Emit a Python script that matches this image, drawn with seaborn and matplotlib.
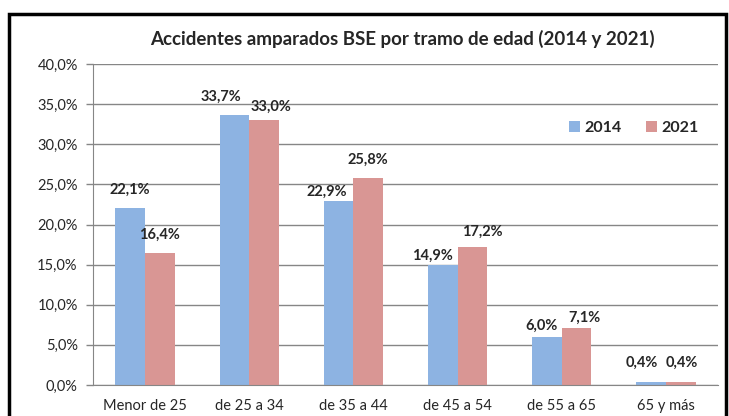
import numpy as np
import pandas as pd
import seaborn as sns
import matplotlib.pyplot as plt
from matplotlib.patches import Rectangle
from matplotlib.ticker import FuncFormatter

# datos
tramos = ['Menor de 25', 'de 25 a 34', 'de 35 a 44', 'de 45 a 54', 'de 55 a 65', '65 y más']
v2014 = [22.1, 33.7, 22.9, 14.9, 6.0, 0.4]
v2021 = [16.4, 33.0, 25.8, 17.2, 7.1, 0.4]
anios = ['2014', '2021']
colores = ['#8DB3E2', '#D99694']

# desplazamiento de las etiquetas (pixeles) respecto al tope de cada barra
desp = [
    [(0, 18), (-13, 18), (-12, 9), (-10, 10), (-5, 11), (-9, 19)],
    [(0, 19), (7, 13), (0, 18), (10, 15), (8, 10), (1, 19)],
]

df = pd.DataFrame({
    'tramo': tramos * 2,
    'valor': v2014 + v2021,
    'anio': [anios[0]] * len(tramos) + [anios[1]] * len(tramos),
})

sns.set_style('white')
plt.rcParams['font.family'] = ['Lato', 'DejaVu Sans']

fig = plt.figure(figsize=(7.29, 4.16), dpi=100)
ax = fig.add_axes([93 / 729, 31 / 416, 625 / 729, 321 / 416])

sns.barplot(data=df, x='tramo', y='valor', hue='anio', palette=colores,
            width=0.57, ax=ax, edgecolor='none', saturation=1)

for k, cont in enumerate(ax.containers):
    for j, bar in enumerate(cont):
        v = cont.datavalues[j]
        ax.annotate(f'{v:.1f}%'.replace('.', ','),
                    (bar.get_x() + bar.get_width() / 2, bar.get_height()),
                    xytext=desp[k][j], textcoords='offset pixels',
                    ha='center', va='center', fontsize=10.5, fontweight='bold')

ax.set_ylim(0, 40)
ax.set_xlim(-0.5, 5.5)
ax.set_yticks(np.arange(0, 41, 5))
ax.yaxis.set_major_formatter(FuncFormatter(lambda v, p: f'{v:.1f}%'.replace('.', ',')))
ax.grid(axis='y', color='#868686', linewidth=1)
ax.set_axisbelow(True)
for s in ['top', 'right']:
    ax.spines[s].set_visible(False)
ax.spines['left'].set_color('#868686')
ax.spines['bottom'].set_color('#868686')
ax.set_xticks(np.arange(-0.5, 6, 1), minor=True)
ax.tick_params(axis='x', which='major', length=0, labelsize=10.5, pad=10)
ax.tick_params(axis='x', which='minor', length=5, color='#868686', width=1)
ax.tick_params(axis='y', length=5, color='#868686', width=1, labelsize=10.5, left=True, pad=6)
ax.set_xlabel('')
ax.set_ylabel('')

ax.set_title('Accidentes amparados BSE por tramo de edad (2014 y 2021)',
             fontsize=13.5, fontweight='bold', pad=14, x=0.495)

leg = ax.legend(loc='center right', bbox_to_anchor=(0.98, 0.80), frameon=False, ncol=2,
                handlelength=0.7, handleheight=0.7, columnspacing=1.5, handletextpad=0.3,
                borderaxespad=0, prop={'weight': 'bold', 'size': 11.5})

fig.add_artist(Rectangle((9 / 729, -0.05), 717 / 729, 1.05 - 14 / 416,
                         transform=fig.transFigure, fill=False, edgecolor='black', linewidth=2.5))

fig.savefig('out.png', dpi=100)
